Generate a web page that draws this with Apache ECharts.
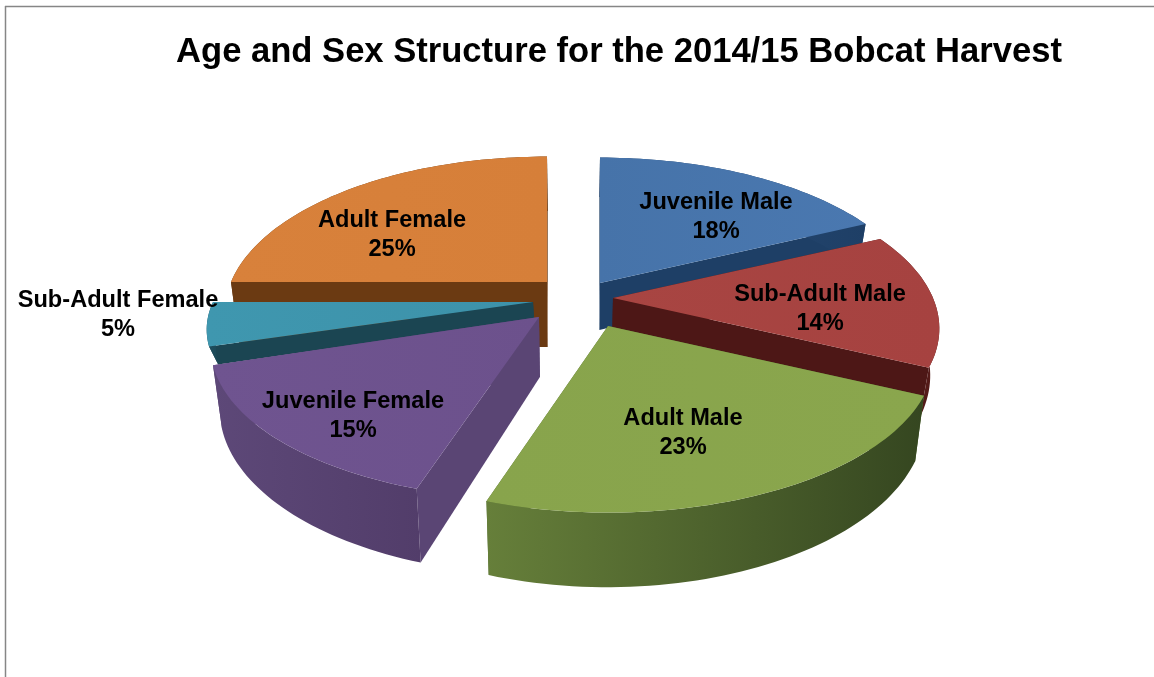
<!DOCTYPE html>
<html><head><meta charset="utf-8">
<style>html,body{margin:0;padding:0;background:#fff}#c{width:1154px;height:677px}</style>
<script src="https://cdn.jsdelivr.net/npm/echarts@6/dist/echarts.min.js"></script>
</head><body><div id="c"></div>
<script>
const titleText = 'Age and Sex Structure for the 2014/15 Bobcat Harvest';
const categories = ['Juvenile Male','Sub-Adult Male','Adult Male','Juvenile Female','Sub-Adult Female','Adult Female'];
const values = [18,14,23,15,5,25];
// layout of the exploded slices: apex of each slice, radii, wall height, label offset from the apex, paint order
const apexX = [600,613,608,539,533,547];
const apexY = [283,298,326,317,302,282];
const radiusX = [318,320,320,322,320,316];
const radiusY = [150,150,150,147,135,150];
const wallH = [47,45,60,60,17,65];
const labelDX = [116,207,75,-186,-415,-155];
const labelDY = [-66,11,107,99,13,-47];
const paintOrder = [2,3,5,4,1,0];
const topColors = ['#4673a9','#a84542','#88a44c','#6f5490','#3f97af','#d8813b'];
const topColors2 = ['#4a78b0','#a64240','#8aa64d','#6c518c','#3d92aa','#d67f39'];
const cutColors = ['#1e3f66','#4d1716','#4f6a2c','#5a4574','#1b4552','#6b3a12'];
const wallLeft = ['#2b4d78','#4d1716','#667f3a','#5d4878','#1f5060','#6b3a12'];
const wallRight = ['#1e3f66','#551b19','#354620','#523d6a','#1b4552','#6b3a12'];
const K=0.196, SHRINK=0.025, CX=575;

function pt(i,a){
  const u=Math.sin(a), v=Math.cos(a), p=1/(1+K*v);
  return [apexX[i]+radiusX[i]*u*p, apexY[i]-radiusY[i]*v*p, wallH[i]*p];
}
function low(q){ return [q[0]+(CX-q[0])*SHRINK, q[1]+q[2]]; }

function renderItem(params, api){
  const i=params.dataIndex;
  const total=values.reduce((s,v)=>s+v,0);
  let before=0; for(let j=0;j<i;j++) before+=values[j];
  const a0=before/total*2*Math.PI, a1=(before+api.value(0))/total*2*Math.PI;
  const base=paintOrder[i]*10+1;
  const n=Math.max(8,Math.round((a1-a0)*40));
  const arc=[]; for(let s=0;s<=n;s++) arc.push(pt(i,a0+(a1-a0)*s/n));
  const apex=[apexX[i],apexY[i],wallH[i]];
  const poly=(pts,fill,z)=>({type:'polygon',z2:z,shape:{points:pts},style:{fill:fill}});
  const first=arc[0], last=arc[n];
  const cutA=[[apex[0],apex[1]],[first[0],first[1]],low(first),low(apex)];
  const cutB=[[apex[0],apex[1]],[last[0],last[1]],low(last),low(apex)];
  const outer=arc.map(q=>[q[0],q[1]]).concat(arc.slice().reverse().map(low));
  const grad=new echarts.graphic.LinearGradient(0,0,1,0,[{offset:0,color:wallLeft[i]},{offset:1,color:wallRight[i]}]);
  const topGrad=new echarts.graphic.LinearGradient(0,0,1,0,[{offset:0,color:topColors[i]},{offset:1,color:topColors2[i]}]);
  const meanA=(first[1]+apex[1])/2, meanB=(last[1]+apex[1])/2;
  return {type:'group',children:[
    poly(cutA,cutColors[i],base+(meanA<meanB?0:1)),
    poly(cutB,cutColors[i],base+(meanA<meanB?1:0)),
    poly(outer,grad,base+2),
    poly(arc.map(q=>[q[0],q[1]]).concat([[apex[0],apex[1]]]),topGrad,base+5),
    {type:'text',z2:500,style:{
      x:apexX[i]+labelDX[i],y:apexY[i]+labelDY[i],
      text:categories[i]+'\n'+api.value(0)+'%',
      fill:'#000',align:'center',verticalAlign:'middle',
      font:'bold 23.6px "Liberation Sans", Arial, sans-serif',lineHeight:28.5}}
  ]};
}
const chart=echarts.init(document.getElementById('c'),null,{renderer:'canvas'});
chart.setOption({
  animation:false,
  backgroundColor:'#fff',
  title:{text:titleText,left:614,top:47,textAlign:'center',textVerticalAlign:'middle',
    textStyle:{fontFamily:'"Liberation Sans", Arial, sans-serif',fontWeight:'bold',fontSize:34.6,color:'#000'}},
  graphic:[
    {type:'line',shape:{x1:5.5,y1:6,x2:5.5,y2:677},style:{stroke:'#868686',lineWidth:1.5}},
    {type:'line',shape:{x1:5,y1:6.5,x2:1154,y2:6.5},style:{stroke:'#868686',lineWidth:1.5}}
  ],
  series:[{type:'custom',coordinateSystem:'none',renderItem,
    data:categories.map((c,i)=>({name:c,value:values[i]}))}]
});
</script></body></html>
